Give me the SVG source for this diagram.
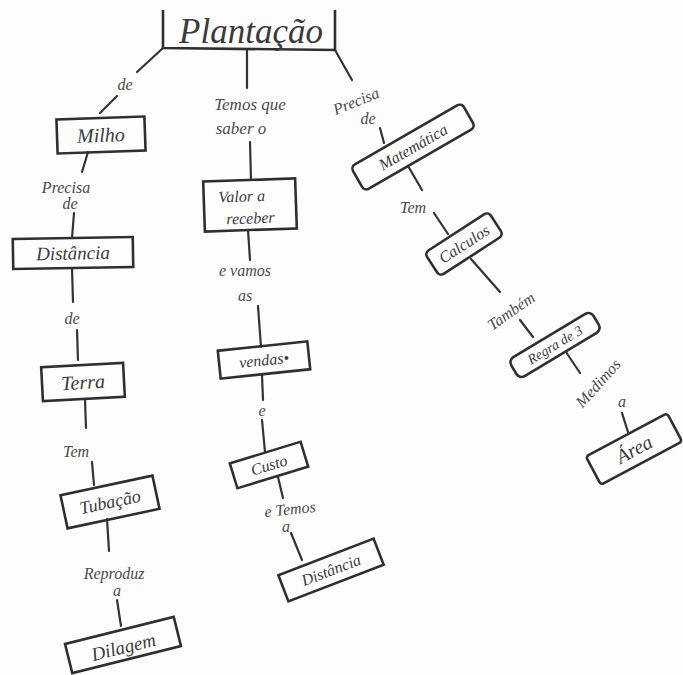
<svg xmlns="http://www.w3.org/2000/svg" width="683" height="675" viewBox="0 0 683 675">
<style>
.bx{fill:none;stroke:#2f2f2f;stroke-width:2.6}
.ln{fill:none;stroke:#333;stroke-width:2.2;stroke-linecap:round}
.nt{font-family:"Liberation Serif",serif;font-style:italic;font-size:18px;fill:#3a3a3a;text-anchor:middle;dominant-baseline:central}
.lb{font-family:"Liberation Serif",serif;font-style:italic;font-size:16px;fill:#4a4a4a;text-anchor:middle;dominant-baseline:central}
</style>
<rect width="683" height="675" fill="#fdfdfd"/>
<g id="connectors">
<path class="ln" d="M163,48 L137,72"/><text class="lb" x="125" y="84">de</text><path class="ln" d="M117,96 L100,113"/>
<path class="ln" d="M88,152 L82,172"/><text class="lb" x="66" y="187">Precisa</text><text class="lb" x="70" y="203">de</text><path class="ln" d="M74,213 L72,238"/>
<path class="ln" d="M72,268 L73,302"/><text class="lb" x="72" y="318">de</text><path class="ln" d="M77,330 L78,360"/>
<path class="ln" d="M85,399 L86,428"/><text class="lb" x="76" y="451">Tem</text><path class="ln" d="M92,462 L94,485"/>
<path class="ln" d="M107,519 L109,551"/><text class="lb" x="114" y="573">Reproduz</text><text class="lb" x="117" y="590">a</text><path class="ln" d="M117,600 L121,626"/>
<path class="ln" d="M247,50 L247,88"/><text class="lb" x="250" y="104" style="font-size:17px">Temos que</text><text class="lb" x="241" y="128" style="font-size:17px">saber o</text><path class="ln" d="M250,142 L251,180"/>
<path class="ln" d="M248,230 L250,260"/><text class="lb" x="245" y="270">e vamos</text><text class="lb" x="245" y="295">as</text><path class="ln" d="M258,306 L261,347"/>
<path class="ln" d="M262,375 L263,400"/><text class="lb" x="262" y="410">e</text><path class="ln" d="M262,420 L265,452"/>
<path class="ln" d="M278,477 L283,498"/><text class="lb" x="290" y="509" transform="rotate(-6 290 509)">e Temos</text><text class="lb" x="286" y="526">a</text><path class="ln" d="M291,533 L302,560"/>
<path class="ln" d="M335,50 L352,80"/><text class="lb" x="356" y="101" transform="rotate(-22 356 101)">Precisa</text><text class="lb" x="368" y="118">de</text><path class="ln" d="M380,128 L384,143"/>
<path class="ln" d="M408,166 L422,190"/><text class="lb" x="413" y="207">Tem</text><path class="ln" d="M434,213 L448,234"/>
<path class="ln" d="M471,259 L500,292"/><text class="lb" x="511" y="311" transform="rotate(-35 511 311)">Também</text><path class="ln" d="M520,320 L533,337"/>
<path class="ln" d="M566,352 L580,373"/><text class="lb" x="598" y="383" transform="rotate(-48 598 383)">Medimos</text><text class="lb" x="622" y="401">a</text><path class="ln" d="M622,413 L628,432"/>
</g>
<g id="plantacao">
<path class="bx" d="M163,10 L163,48 L335,50 L335,10"/>
<text class="nt" x="251" y="31" style="font-size:35px">Plantação</text>
</g>
<g id="milho" transform="translate(101,135) rotate(-2)"><rect class="bx" x="-44" y="-17" width="88" height="34"/><text class="nt" x="0" y="0" style="font-size:20px">Milho</text></g>
<g id="distancia1" transform="translate(73,253) rotate(-1)"><rect class="bx" x="-60" y="-15" width="120" height="30"/><text class="nt" x="0" y="0" style="font-size:19px">Distância</text></g>
<g id="terra" transform="translate(83,382) rotate(-3)"><rect class="bx" x="-41" y="-17" width="82" height="34"/><text class="nt" x="0" y="0" style="font-size:20px">Terra</text></g>
<g id="tubacao" transform="translate(110,502) rotate(-12)"><rect class="bx" x="-47" y="-17" width="94" height="34"/><text class="nt" x="0" y="0">Tubação</text></g>
<g id="dilagem" transform="translate(123,645) rotate(-14)"><rect class="bx" x="-56" y="-15" width="112" height="30"/><text class="nt" x="0" y="2" style="font-size:19px">Dilagem</text></g>
<g id="valor" transform="translate(250,205) rotate(-2)"><rect class="bx" x="-46" y="-25" width="92" height="50"/><text class="nt" x="-8" y="-9" style="font-size:16px">Valor a</text><text class="nt" x="0" y="13" style="font-size:16px">receber</text></g>
<g id="vendas" transform="translate(264,360) rotate(-6)"><rect class="bx" x="-45" y="-14" width="90" height="28"/><text class="nt" x="0" y="0" style="font-size:16px">vendas•</text></g>
<g id="custo" transform="translate(269,465) rotate(-17)"><rect class="bx" x="-37" y="-13" width="74" height="26"/><text class="nt" x="0" y="0" style="font-size:16px">Custo</text></g>
<g id="distancia2" transform="translate(331,570) rotate(-21)"><rect class="bx" x="-51" y="-14" width="102" height="28"/><text class="nt" x="0" y="0" style="font-size:16px">Distância</text></g>
<g id="matematica" transform="translate(413,147) rotate(-30)"><rect class="bx" x="-64" y="-14" width="128" height="28" rx="5"/><text class="nt" x="0" y="0" style="font-size:16px">Matemática</text></g>
<g id="calculos" transform="translate(464,244) rotate(-33)"><rect class="bx" x="-38" y="-14" width="76" height="28" rx="5"/><text class="nt" x="0" y="0" style="font-size:16px">Calculos</text></g>
<g id="regra" transform="translate(555,345) rotate(-31)"><rect class="bx" x="-48" y="-11" width="96" height="22" rx="6"/><text class="nt" x="0" y="0" style="font-size:14px">Regra de 3</text></g>
<g id="area" transform="translate(634,449) rotate(-28)"><rect class="bx" x="-46" y="-16" width="92" height="32" rx="3"/><text class="nt" x="0" y="0" style="font-size:20px">Área</text></g>
</svg>
